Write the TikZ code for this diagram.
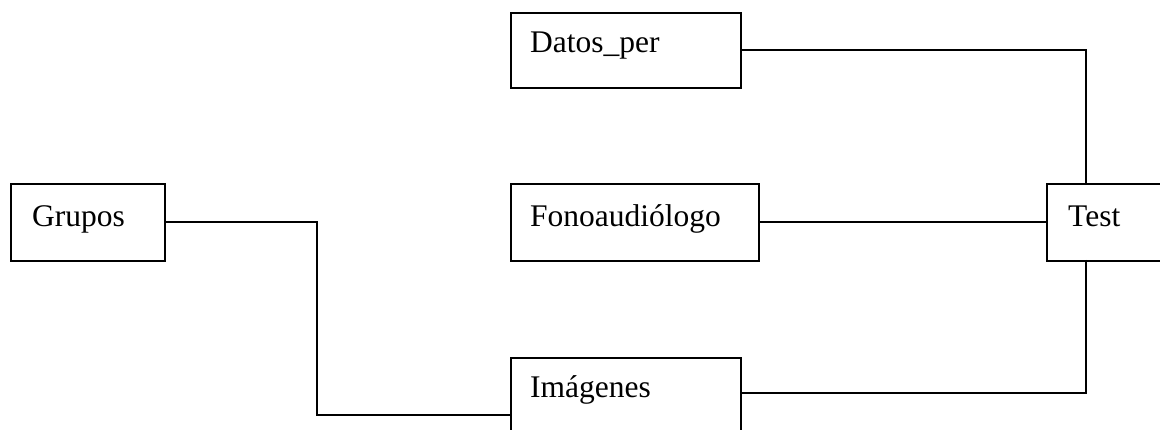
\documentclass[tikz,border=0pt]{standalone}
\usepackage{fontspec}
\setmainfont{Liberation Serif}
\begin{document}
\begin{tikzpicture}[x=1pt,y=-1pt,
  box/.style={draw=black,line width=2pt,anchor=north west,inner sep=0pt},
  lbl/.style={anchor=base west,inner sep=0pt,font=\fontsize{31.5}{37}\selectfont},
  conn/.style={draw=black,line width=2pt}]
\useasboundingbox (0,0) rectangle (1160,430);
% boxes
\node[box,minimum width=230pt,minimum height=75pt] (datos) at (510,12) {};
\node[box,minimum width=154pt,minimum height=77pt] (grupos) at (10,183) {};
\node[box,minimum width=248pt,minimum height=77pt] (fono) at (510,183) {};
\node[box,minimum width=130pt,minimum height=77pt] (test) at (1046,183) {};
\node[box,minimum width=230pt,minimum height=90pt] (imag) at (510,357) {};
% labels
\node[lbl] (tdatos) at (530,53) {Datos\_per};
\node[lbl] (tgrupos) at (32,227) {Grupos};
\node[lbl] (tfono) at (530,227) {Fonoaudiólogo};
\node[lbl] (ttest) at (1068,227) {Test};
\node[lbl] (timag) at (530,398) {Imágenes};
% junction coordinates
\coordinate (ttop) at (1086,183);
\coordinate (tbot) at (1086,260);
\coordinate (iright) at (740,393);
\coordinate (ileft) at (510,415);
\coordinate (gbend) at (317,415);
% connectors
\draw[conn] (datos.east) -| (ttop);
\draw[conn] (fono.east) -- (test.west);
\draw[conn] (tbot) |- (iright);
\draw[conn] (grupos.east) -| (gbend) -- (ileft);
\end{tikzpicture}
\end{document}
